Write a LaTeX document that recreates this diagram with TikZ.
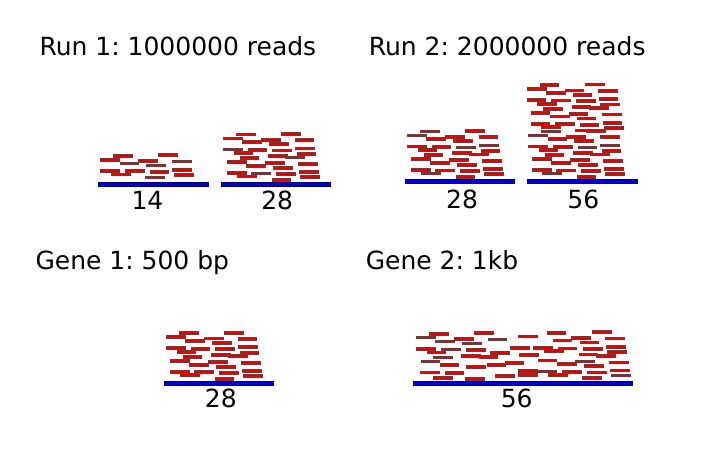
\documentclass[tikz,border=0pt]{standalone}
\usepackage{fontspec}
\setmainfont{DejaVu Sans}
\frenchspacing
\definecolor{readfill}{RGB}{235,0,0}
\definecolor{readedge}{RGB}{120,55,55}
\definecolor{barfill}{RGB}{0,0,215}
\definecolor{baredge}{RGB}{0,0,110}
\tikzset{
  rd/.style={fill=readfill, draw=readedge, line width=0.35pt},
  genebar/.style={fill=barfill, draw=baredge, line width=0.6pt},
  lbl/.style={inner sep=0pt, font=\fontsize{25}{30}\selectfont},
}
\def\Plist{15/48, 60.3/48.6, 2.3/44.1, 40.2/42.8, 21.5/40.3, 73.8/42.3, 48.2/38.3, 2.2/33, 26.8/32.6, 51.5/32, 74/34, 12.7/29.3, 75.7/28.6, 47/26.3, 18.7/24.3, 64.3/25, 6/20.3, 44/19.3, 25.3/16.6, 77.3/18.6, 52/14.6, 6/9.5, 30.3/9.1, 55.2/8.5, 78/10.3, 16.3/6, 79.3/5.3, 50.7/2.6}
\def\Pfirst{15/48, 60.3/48.6, 2.3/44.1, 40.2/42.8, 21.5/40.3, 73.8/42.3, 48.2/38.3, 2.2/33, 26.8/32.6, 51.5/32, 74/34, 12.7/29.3, 75.7/28.6, 47/26.3}
\def\Blist{429/333.7, 474.3/333, 518/336.3, 546.7/332.7, 592/332, 416.3/337.3, 454/338.7, 487.7/339.3, 552.7/340.3, 571.3/338, 605/338.3, 435.3/341.3, 462.3/343.3, 579.7/342.3, 416.3/348.7, 441/349.3, 466/350, 510.3/347.7, 533.3/347.7, 557.7/348.3, 583/349, 606/346.7, 426.7/352.3, 490/353, 544.3/351, 607.3/351.7, 461.3/355.7, 519/354.7, 578.7/354.3, 433/357.3, 478.7/357, 596/355.7, 420.7/361.3, 537.7/360.3, 575.3/361.3, 609/362.3, 439.7/365, 466.3/366.7, 486.7/364.7, 504.7/363, 557.3/363.7, 584/365.7, 420.3/372.3, 444.7/372.7, 518/370.7, 537.7/371.3, 562.3/371.7, 587.3/372.3, 610/370.3, 495.3/376, 518.3/375, 548.3/374.7, 611.3/375.3, 433/378, 465/379, 582/378}
% #1 bar left, #2 bar top, #3 extra height, #4 list
\newcommand{\readset}[4]{%
  \foreach \rx/\rh in #4 {
    \draw[rd] ({#1+\rx},{#2-\rh-(#3)-1.35}) rectangle ++(18.7,2.7);
  }%
}
\begin{document}
\begin{tikzpicture}[x=1pt,y=-1pt]
\useasboundingbox[fill=white] (0,0) rectangle (706,456);
% titles
\node[lbl, anchor=base west] (run1) at (39.3,55.7) {Run 1: 1000000 reads};
\node[lbl, anchor=base west] (run2) at (368.6,55.7) {Run 2: 2000000 reads};
\node[lbl, anchor=base west] (gene1) at (35.3,269.5) {Gene 1: 500 bp};
\node[lbl, anchor=base west] (gene2) at (365.6,269.5) {Gene 2: 1kb};
% panel 1
\readset{98.3}{182.3}{-21.3}{\Pfirst}
\draw[genebar] (98.3,182.3) rectangle (208.3,186.2);
\node[lbl, anchor=base] (n14) at (147.5,209.8) {14};
% panel 2
\readset{221}{182.3}{0}{\Plist}
\draw[genebar] (221.3,182.3) rectangle (330.7,186.2);
\node[lbl, anchor=base] (n28a) at (277.2,209.8) {28};
% panel 3
\readset{405}{179.3}{0}{\Plist}
\draw[genebar] (405,179.5) rectangle (514.3,183.6);
\node[lbl, anchor=base] (n28b) at (462,208.3) {28};
% panel 4
\readset{526.2}{179.3}{0}{\Plist}
\readset{524.7}{179.3}{46.4}{\Plist}
\draw[genebar] (527.7,179.5) rectangle (637.3,183.6);
\node[lbl, anchor=base] (n56a) at (583.3,208.3) {56};
% bottom left
\readset{164}{381}{0}{\Plist}
\draw[genebar] (164,381.3) rectangle (273.5,385.3);
\node[lbl, anchor=base] (n28c) at (220.8,407.2) {28};
% bottom right
\foreach \rx/\rc in \Blist {
  \draw[rd] (\rx,{\rc-1.35}) rectangle ++(18.7,2.7);
}
\draw[genebar] (413.3,381.7) rectangle (632.7,385.7);
\node[lbl, anchor=base] (n56b) at (516.7,407.2) {56};
\end{tikzpicture}
\end{document}
